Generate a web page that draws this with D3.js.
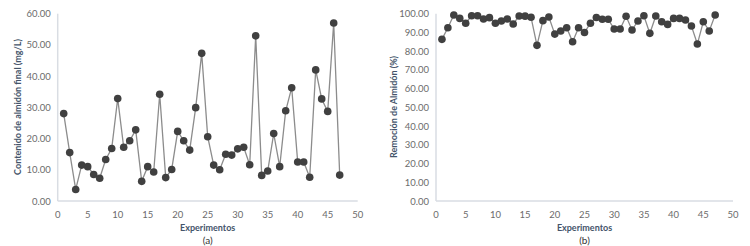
<!DOCTYPE html>
<html>
<head>
<meta charset="utf-8">
<script src="https://cdn.jsdelivr.net/npm/d3@7"></script>
<style>
  body { margin: 0; background: #fff; }
  svg text { font-family: Lato, "Open Sans", sans-serif; }
  .tick-label { font-size: 9.5px; fill: #6b6b6b; }
  .axis-label { font-size: 9px; font-weight: bold; fill: #44546a; }
</style>
</head>
<body>
<div id="chart"></div>
<script>
// data
const experiments = d3.range(1, 48);
const finalStarch = [28.0, 15.5, 3.7, 11.5, 11.0, 8.5, 7.3, 13.3, 16.8, 32.8,
  17.2, 19.3, 22.8, 6.3, 11.0, 9.3, 34.2, 7.5, 10.1, 22.3,
  19.3, 16.3, 29.9, 47.3, 20.6, 11.5, 10.0, 15.0, 14.7, 16.7,
  17.2, 11.6, 52.9, 8.2, 9.6, 21.6, 11.0, 28.9, 36.3, 12.5,
  12.5, 7.6, 42.0, 32.7, 28.7, 57.0, 8.3];
const starchRemoval = [86.3, 92.5, 99.3, 97.5, 94.9, 98.9, 98.9, 97.2, 97.9, 94.9,
  96.1, 97.2, 94.5, 98.8, 98.7, 98.1, 83.1, 96.3, 98.2, 89.1,
  90.8, 92.5, 85.0, 92.5, 90.0, 94.9, 98.0, 97.0, 97.0, 91.8,
  91.8, 98.6, 91.3, 96.1, 98.9, 89.5, 98.8, 95.7, 94.3, 97.5,
  97.5, 96.6, 93.4, 83.8, 95.7, 90.8, 99.3];
const xTicks = [0, 5, 10, 15, 20, 25, 30, 35, 40, 45, 50];
const yTicksA = [0, 10, 20, 30, 40, 50, 60];
const yTicksB = [0, 10, 20, 30, 40, 50, 60, 70, 80, 90, 100];

const width = 750, height = 246;
const svg = d3.select("#chart").append("svg")
  .attr("width", width)
  .attr("height", height);

// draw one panel
function panel(opts) {
  const x = d3.scaleLinear().domain([0, 50]).range([opts.left, opts.right]);
  const y = d3.scaleLinear().domain([0, opts.yMax]).range([201, 13.7]);
  const g = svg.append("g");

  // axis lines
  g.append("line")
    .attr("x1", x(0)).attr("x2", x(0))
    .attr("y1", y(opts.yMax)).attr("y2", y(0))
    .attr("stroke", "#d9dde3").attr("stroke-width", 1.5);
  g.append("line")
    .attr("x1", x(0)).attr("x2", x(50))
    .attr("y1", y(0)).attr("y2", y(0))
    .attr("stroke", "#d9dde3").attr("stroke-width", 1.5);

  // tick labels
  g.selectAll(".ytick").data(opts.yTicks).join("text")
    .attr("class", "tick-label")
    .attr("text-anchor", "end")
    .attr("x", x(0) - 7)
    .attr("y", d => y(d) + 3.5)
    .text(d => d.toFixed(2));
  g.selectAll(".xtick").data(xTicks).join("text")
    .attr("class", "tick-label")
    .attr("text-anchor", "middle")
    .attr("x", d => x(d))
    .attr("y", 218)
    .text(d => d);

  // axis titles
  g.append("text")
    .attr("class", "axis-label")
    .attr("text-anchor", "middle")
    .attr("transform", `translate(${opts.yLabelX},107) rotate(-90)`)
    .text(opts.yLabel);
  g.append("text")
    .attr("class", "axis-label")
    .attr("text-anchor", "middle")
    .attr("x", (x(0) + x(50)) / 2)
    .attr("y", 231)
    .text("Experimentos");
  g.append("text")
    .attr("class", "axis-label")
    .style("font-weight", "normal")
    .style("font-size", "10px")
    .style("fill", "#333")
    .attr("text-anchor", "middle")
    .attr("x", (x(0) + x(50)) / 2)
    .attr("y", 243.5)
    .text(opts.tag);

  const pts = experiments.map((e, i) => [e, opts.values[i]]);
  g.append("path")
    .datum(pts)
    .attr("fill", "none")
    .attr("stroke", "#8c8c8c")
    .attr("stroke-width", 1.3)
    .attr("d", d3.line().x(d => x(d[0])).y(d => y(d[1])));
  g.selectAll("circle").data(pts).join("circle")
    .attr("cx", d => x(d[0]))
    .attr("cy", d => y(d[1]))
    .attr("r", 3.8)
    .attr("fill", "#404040");
}

panel({left: 57.7, right: 357.7, yMax: 60, yTicks: yTicksA, values: finalStarch,
  yLabel: "Contenido de almidón final (mg/L)", yLabelX: 21, tag: "(a)"});
panel({left: 436, right: 733, yMax: 100, yTicks: yTicksB, values: starchRemoval,
  yLabel: "Remoción de Almidón (%)", yLabelX: 397, tag: "(b)"});
</script>
</body>
</html>
